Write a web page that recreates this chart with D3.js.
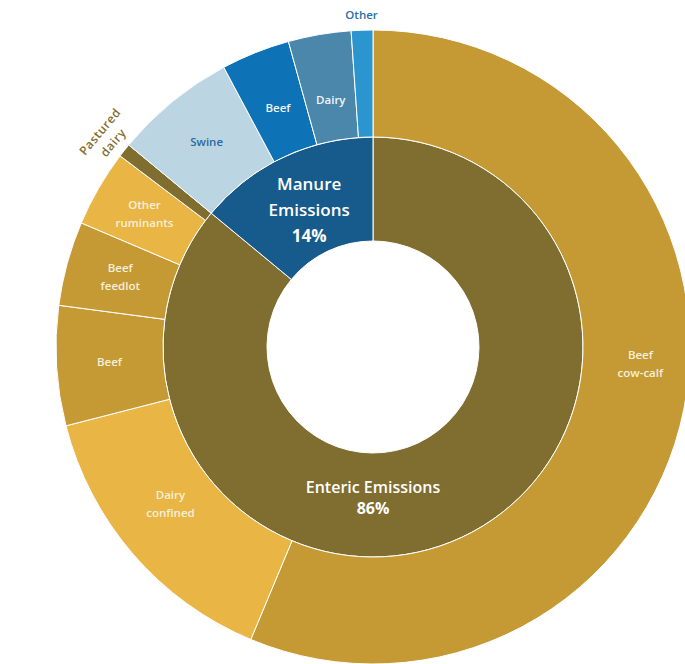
<!DOCTYPE html>
<html><head><meta charset="utf-8">
<script src="https://cdn.jsdelivr.net/npm/d3@7"></script>
<style>html,body{margin:0;padding:0;background:#fff;}svg{display:block;}</style>
</head><body>
<svg id="chart" width="685" height="664"></svg>
<script>
// ---- data ----
const innerNames = ["Enteric Emissions", "Manure Emissions"];
const innerValues = [86, 14];
const outerNames = ["Beef\ncow-calf", "Dairy\nconfined", "Beef", "Beef\nfeedlot", "Other\nruminants", "Pastured\ndairy",
                    "Swine", "Beef", "Dairy", "Other"];
const outerParents = [0, 0, 0, 0, 0, 0, 1, 1, 1, 1];
const outerValues = [56.3, 14.7, 6.1, 4.3, 3.9, 0.7, 6.2, 3.5, 3.2, 1.1];

// ---- styles ----
const innerColors = ["#7f6e2f", "#175a8c"];
const outerColors = ["#c59a35", "#e9b545", "#c59a35", "#c59a35", "#e9b545", "#7f6e2f",
                     "#bcd5e3", "#0e73b6", "#4a87ab", "#2a95cf"];
const outerTextColors = ["#f6efdc", "#f6efdc", "#f6efdc", "#f6efdc", "#f6efdc", "#7f6e2f",
                         "#2a6a9e", "#f2f6fa", "#f2f6fa", "#2a6fa8"];

const W = 685, H = 664, cx = 373, cy = 347;
const rHole = 106, rMid = 210, rOuter = 317;
const svg = d3.select("#chart");
const g = svg.append("g").attr("transform", `translate(${cx},${cy})`);

const pie = d3.pie().sort(null).startAngle(0).endAngle(2 * Math.PI);
const innerArcs = pie(innerValues);
const outerArcs = pie(outerValues);

const arcInner = d3.arc().innerRadius(rHole).outerRadius(rMid);
const arcOuter = d3.arc().innerRadius(rMid).outerRadius(rOuter);

g.selectAll("path.inner").data(innerArcs).join("path")
  .attr("class", "inner")
  .attr("d", arcInner)
  .attr("fill", (d, i) => innerColors[i])
  .attr("stroke", "#fff").attr("stroke-width", 1);

g.selectAll("path.outer").data(outerArcs).join("path")
  .attr("class", "outer")
  .attr("d", arcOuter)
  .attr("fill", (d, i) => outerColors[i])
  .attr("stroke", "#fff").attr("stroke-width", 1);

const font = "'Open Sans', 'DejaVu Sans', sans-serif";

function polar(angle, r) { return [r * Math.sin(angle), -r * Math.cos(angle)]; }

// inner labels
const innerLabelAngle = [Math.PI, null];
const innerLabelR = [152, 150];
innerArcs.forEach((d, i) => {
  const a = innerLabelAngle[i] != null ? innerLabelAngle[i] : (d.startAngle + d.endAngle) / 2;
  const [x, y] = polar(a, innerLabelR[i]);
  const lines = i === 0 ? ["Enteric Emissions", innerValues[i] + "%"] : ["Manure", "Emissions", innerValues[i] + "%"];
  const lh = i === 0 ? 21 : 26;
  const t = g.append("text").attr("x", x).attr("y", y - (lines.length - 1) * lh / 2)
    .attr("text-anchor", "middle").attr("font-family", font)
    .attr("font-size", i === 0 ? 16 : 17).attr("font-weight", 600).attr("fill", "#fff")
    .attr("dominant-baseline", "middle");
  lines.forEach((l, k) => t.append("tspan").attr("x", x).attr("dy", k === 0 ? 0 : lh).text(l)
    .attr("font-weight", k === lines.length - 1 ? 700 : 600));
});

// outer labels
const outerLabelAngleShift = [-0.13, 0.05, 0, 0, 0, -0.002, 0, 0, 0, 0.0];
const outerLabelR = [268, 257, 264, 262, 264, 338, 263, 256, 250, 331];
outerArcs.forEach((d, i) => {
  const a = (d.startAngle + d.endAngle) / 2 + outerLabelAngleShift[i];
  const [x, y] = polar(a, outerLabelR[i]);
  const lines = outerNames[i].split("\n");
  const lh = 18;
  const rotated = i === 5;
  const t = g.append("text")
    .attr("text-anchor", "middle").attr("font-family", font)
    .attr("font-size", rotated ? 12 : 11.5).attr("font-weight", 600).attr("fill", outerTextColors[i])
    .attr("letter-spacing", rotated ? 0.6 : 0)
    .attr("dominant-baseline", "middle")
    .attr("transform", `translate(${x},${y})` + (rotated ? " rotate(-50)" : ""));
  const lhh = rotated ? 17 : lh;
  lines.forEach((l, k) => t.append("tspan").attr("x", 0)
    .attr("y", -(lines.length - 1) * lhh / 2 + k * lhh).text(l));
});
</script>
</body></html>
